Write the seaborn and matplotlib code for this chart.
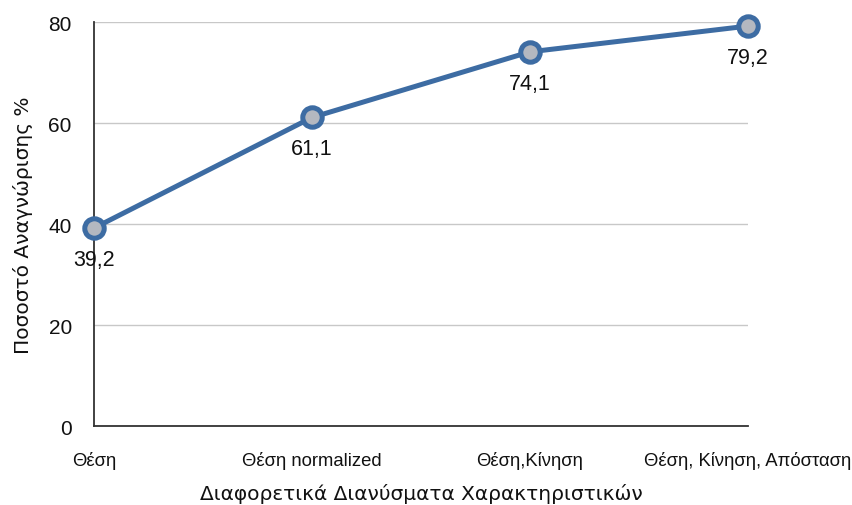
import matplotlib
matplotlib.use("Agg")
import matplotlib.pyplot as plt
import seaborn as sns
import pandas as pd

# Feature vectors and recognition rates
categories = ["Θέση", "Θέση normalized", "Θέση,Κίνηση", "Θέση, Κίνηση, Απόσταση"]
rates = [39.2, 61.1, 74.1, 79.2]
yticks = [0, 20, 40, 60, 80]

df = pd.DataFrame({"feature": categories, "rate": rates})

sns.set_style("white")
plt.rcParams["font.family"] = ["Liberation Sans", "DejaVu Sans"]
plt.rcParams["text.color"] = "#111111"
plt.rcParams["xtick.labelcolor"] = "#111111"
plt.rcParams["ytick.labelcolor"] = "#111111"
plt.rcParams["axes.labelcolor"] = "#111111"

fig = plt.figure(figsize=(8.52, 5.06), dpi=100)
ax = fig.add_axes([0.1103, 0.156, 0.7676, 0.7985])

line_color = "#3D6CA3"
sns.lineplot(data=df, x="feature", y="rate", sort=False, ax=ax,
             color=line_color, linewidth=3.6, marker="o", markersize=14,
             markerfacecolor="#B4B8C0", markeredgecolor=line_color,
             markeredgewidth=3.6, zorder=5, clip_on=False)

ax.set_xlim(0, len(categories) - 1)
ax.set_ylim(0, 80)
ax.set_yticks(yticks)
ax.set_yticklabels([str(v) for v in yticks], fontsize=15)
ax.tick_params(axis="y", length=0, pad=16)

ax.set_xticks(range(len(categories)))
ax.set_xticklabels(categories, fontsize=13.3)
ax.tick_params(axis="x", direction="inout", length=8, width=1.0,
               color="#333333", pad=14)

ax.grid(axis="y", color="#C8C8C8", linewidth=1.0)
ax.grid(axis="x", visible=False)
for side in ["top", "right"]:
    ax.spines[side].set_visible(False)
for side in ["left", "bottom"]:
    ax.spines[side].set_color("#333333")
    ax.spines[side].set_linewidth(1.3)

for i, v in enumerate(rates):
    ax.annotate(f"{v:.1f}".replace(".", ","), (i, v), xytext=(0, -15),
                textcoords="offset points", ha="center", va="top",
                fontsize=15.5, color="#111111", zorder=6)

ax.set_xlabel("Διαφορετικά Διανύσματα Χαρακτηριστικών", fontsize=14.5,
              family="DejaVu Sans", labelpad=10)
ax.set_ylabel("Ποσοστό Αναγνώρισης %", fontsize=14.5,
              family="DejaVu Sans", labelpad=11)

fig.savefig("out.png", dpi=100)
